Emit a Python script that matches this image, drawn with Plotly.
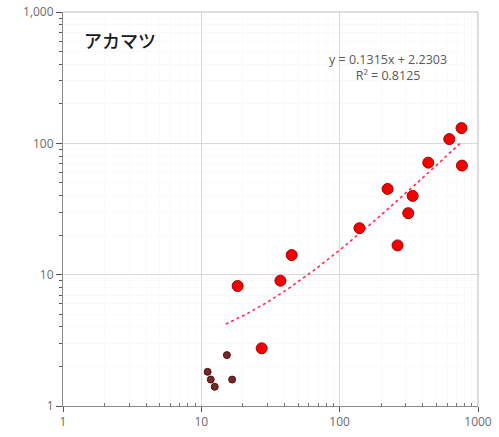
import numpy as np
import plotly.graph_objects as go

# Red series (main samples)
red_x = [18.3, 27.3, 37.3, 45, 139, 222, 262, 313, 337, 437, 620, 760, 765]
red_y = [8.2, 2.75, 9.0, 14.1, 22.6, 45, 16.7, 29.4, 39.8, 71.3, 107.7, 130.6, 67.7]

# Dark series (small samples)
dark_x = [11.1, 11.7, 12.5, 15.3, 16.7]
dark_y = [1.82, 1.59, 1.40, 2.44, 1.59]

# Linear trend: y = slope * x + intercept
slope = 0.1315
intercept = 2.2303
r_squared = 0.8125
trend_span = [15, 760]

tick_vals = [1, 10, 100, 1000]
x_tick_text = ["1", "10", "100", "1000"]
y_tick_text = ["1", "10", "100", "1,000"]
minor_vals = [m * d for d in (1, 10, 100) for m in range(2, 10)]

title_text = "アカマツ"

tx = np.logspace(np.log10(trend_span[0]), np.log10(trend_span[1]), 200)
ty = slope * tx + intercept

fig = go.Figure()
fig.add_trace(go.Scatter(
    x=tx, y=ty, mode="lines",
    line=dict(color="#ff2a55", width=1.6, dash="dot"),
    hoverinfo="skip",
))
fig.add_trace(go.Scatter(
    x=dark_x, y=dark_y, mode="markers",
    marker=dict(size=7, color="#7a2626", line=dict(color="#4d1414", width=1)),
))
fig.add_trace(go.Scatter(
    x=red_x, y=red_y, mode="markers",
    marker=dict(size=11, color="#f40000", line=dict(color="#a80000", width=1)),
))

tick_font = dict(family="Open Sans, Liberation Sans, sans-serif", size=12, color="#6b6b6b")

fig.update_xaxes(
    type="log", range=[0, 3], automargin=False,
    tickvals=tick_vals, ticktext=x_tick_text, tickfont=tick_font,
    showline=True, linecolor="#8a8a8a", linewidth=1,
    ticks="outside", ticklen=5, tickcolor="#555555",
    showgrid=True, gridcolor="#d9d9d9", gridwidth=1,
    zeroline=False,
    minor=dict(tickvals=minor_vals, ticks="inside", ticklen=3, tickcolor="#777777",
               showgrid=True, gridcolor="#fafafa"),
)
fig.update_yaxes(
    type="log", range=[0, 3], automargin=False,
    tickvals=tick_vals, ticktext=y_tick_text, tickfont=tick_font,
    showline=True, linecolor="#8a8a8a", linewidth=1,
    ticks="outside", ticklen=6, tickcolor="#555555",
    showgrid=True, gridcolor="#d9d9d9", gridwidth=1,
    zeroline=False,
    minor=dict(tickvals=minor_vals, ticks="outside", ticklen=3, tickcolor="#555555",
               showgrid=True, gridcolor="#fafafa"),
)

# Light border along the top and right of the plot area
fig.add_shape(type="line", xref="paper", yref="paper", x0=0, x1=1, y0=1, y1=1,
              line=dict(color="#bdbdbd", width=1))
fig.add_shape(type="line", xref="paper", yref="paper", x0=1, x1=1, y0=0, y1=1,
              line=dict(color="#bdbdbd", width=1))

fig.add_annotation(
    xref="paper", yref="paper", x=0.045, y=0.93, xanchor="left", yanchor="middle",
    text=title_text, showarrow=False,
    font=dict(family="Noto Sans CJK JP", size=18, color="#1a1a1a", weight=500),
)
fig.add_annotation(
    xref="paper", yref="paper", x=0.783, y=0.858, xanchor="center", yanchor="middle",
    text=f"y = {slope}x + {intercept}<br>R² = {r_squared}",
    showarrow=False, align="center",
    font=dict(family="Open Sans, Liberation Sans, sans-serif", size=12.5, color="#595959"),
)

fig.update_layout(
    width=499, height=437,
    margin=dict(l=63, r=21, t=12, b=31, autoexpand=False),
    paper_bgcolor="white", plot_bgcolor="white",
    showlegend=False,
)

fig.write_html(
    "out.html",
    default_width="499px",
    default_height="437px",
    config={"responsive": False},
    post_script="document.body.style.margin='0';document.body.style.overflow='hidden';",
)
